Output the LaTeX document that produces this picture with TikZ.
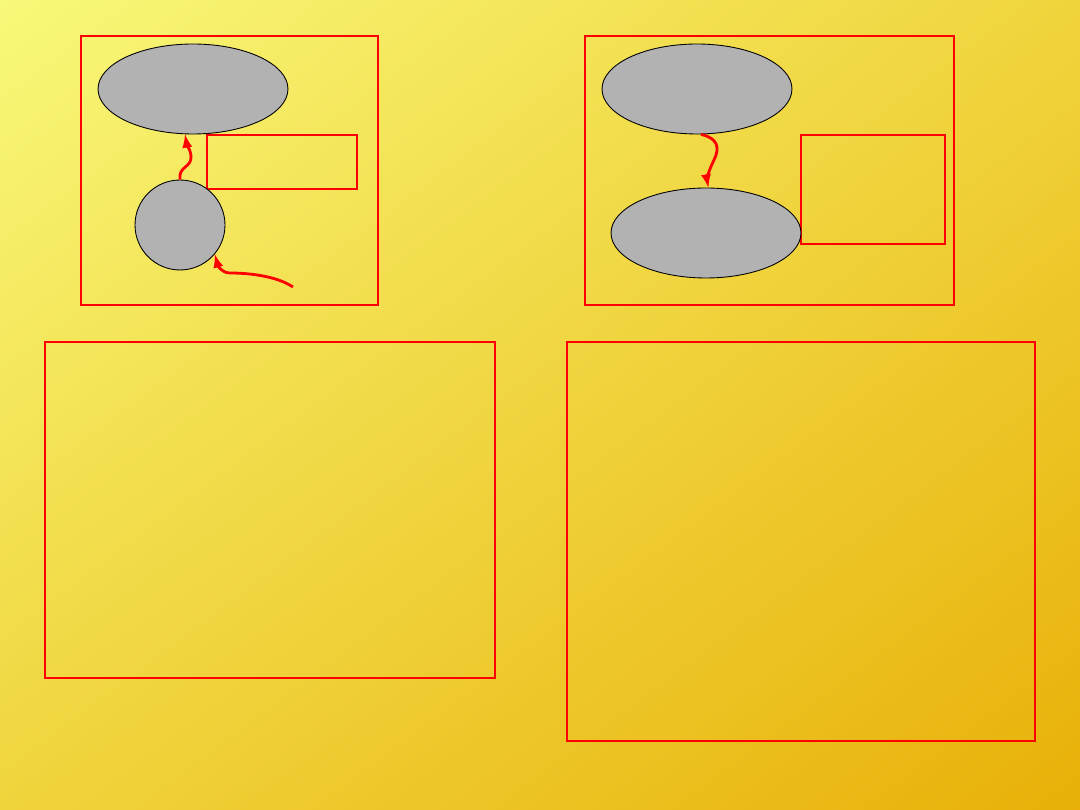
\documentclass[tikz,border=0pt]{standalone}
\usepackage{amsmath}
\usepackage{amssymb}
\usepackage{tikz}
\usetikzlibrary{shapes.geometric,shadings}

\definecolor{bgtl}{RGB}{248,248,122}
\definecolor{bgmid}{RGB}{240,212,60}
\definecolor{bgbr}{RGB}{232,176,8}
\definecolor{blob}{RGB}{178,178,178}

\tikzset{
frame/.style={draw=red,line width=1.1pt},
thinbox/.style={draw=red,line width=0.6pt},
oval/.style={ellipse,draw=black,fill=blob,line width=0.5pt,minimum width=3.8cm,minimum height=1.8cm,inner sep=0pt},
ball/.style={circle,draw=black,fill=blob,line width=0.5pt,minimum size=1.8cm,inner sep=0pt},
arr/.style={-latex,draw=red,line width=1.6pt}
}

\begin{document}
\begin{tikzpicture}[x=0.02cm,y=-0.02cm]
\shade[upper left=bgtl,upper right=bgmid,lower left=bgmid,lower right=bgbr] (0,0) rectangle (1080,810);
\useasboundingbox (0,0) rectangle (1080,810);
\draw[frame] (81,36) rectangle (378,305);
\draw[frame] (585,36) rectangle (954,305);
\draw[frame] (45,342) rectangle (495,678);
\draw[frame] (567,342) rectangle (1035,741);
\draw[thinbox] (207,135) rectangle (357,189);
\draw[frame] (801,135) rectangle (945,244);
\node[oval] (topl) at (193,89) {};
\node[ball] (core) at (180,225) {};
\node[oval] (topr) at (697,89) {};
\node[oval] (botr) at (706,233) {};
\coordinate (feed) at (293,287);
\draw[arr] (core.north) .. controls (178,166) and (192,168) .. (191,156) .. controls (190,148) and (187,146) .. (topl.260);
\draw[arr] (feed) .. controls (275,275) and (245,273) .. (230,273) .. controls (222,273) and (218,266) .. (core.-40);
\draw[arr] (topr.-85) .. controls (718,138) and (720,148) .. (714,160) .. controls (708,172) and (707,180) .. (botr.87);
\end{tikzpicture}
\end{document}
